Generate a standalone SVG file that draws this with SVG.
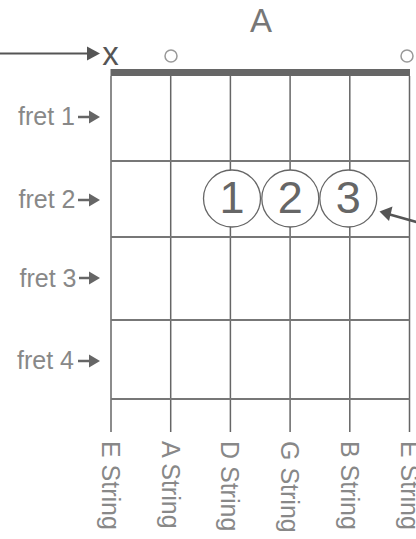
<svg xmlns="http://www.w3.org/2000/svg" width="416" height="539" viewBox="0 0 416 539">
<style>
.lbl{font-family:"Liberation Sans",Arial,sans-serif;font-size:25px;fill:#888}
.str{stroke:#666;stroke-width:1.5;fill:none}
.fret{stroke:#777;stroke-width:2;fill:none}
.open{stroke:#999;stroke-width:1.5;fill:none}
.fing{stroke:#666;stroke-width:1.3;fill:#fff}
.num{font-family:"Liberation Sans",Arial,sans-serif;font-size:45px;fill:#666;text-anchor:middle}
.arr{stroke:#666;stroke-width:2.5;fill:none}
.head{fill:#666}
</style>
<rect width="416" height="539" fill="#fff"/>
<g id="title"><text x="261" y="32" font-family="Liberation Sans, Arial, sans-serif" font-size="33" fill="#777" text-anchor="middle">A</text></g>
<g id="fretboard">
<rect x="110.5" y="69" width="299.5" height="7" fill="#666"/>
<line class="str" x1="111" y1="76" x2="111" y2="432"/>
<line class="str" x1="170.7" y1="76" x2="170.7" y2="432"/>
<line class="str" x1="230.4" y1="76" x2="230.4" y2="432"/>
<line class="str" x1="290.1" y1="76" x2="290.1" y2="432"/>
<line class="str" x1="349.8" y1="76" x2="349.8" y2="432"/>
<line class="str" x1="409.5" y1="76" x2="409.5" y2="432"/>
<line class="fret" x1="111" y1="161" x2="409.5" y2="161"/>
<line class="fret" x1="111" y1="237" x2="409.5" y2="237"/>
<line class="fret" x1="111" y1="320" x2="409.5" y2="320"/>
<line class="fret" x1="111" y1="399" x2="409.5" y2="399"/>
</g>
<g id="mute"><text x="110.5" y="64.5" font-family="Liberation Sans, Arial, sans-serif" font-size="33" fill="#555" text-anchor="middle">x</text></g>
<g id="open-a"><circle class="open" cx="171" cy="56" r="6"/></g>
<g id="open-e"><circle class="open" cx="407" cy="56" r="6"/></g>
<g id="finger1"><circle class="fing" cx="232" cy="198.5" r="28.5"/><text class="num" x="232" y="213">1</text></g>
<g id="finger2"><circle class="fing" cx="290.3" cy="198.5" r="28.5"/><text class="num" x="290.3" y="213">2</text></g>
<g id="finger3"><circle class="fing" cx="348.3" cy="198.5" r="28.5"/><text class="num" x="348.3" y="213">3</text></g>
<g id="fret1"><text class="lbl" x="75" y="125" text-anchor="end">fret 1</text></g>
<g id="fret2"><text class="lbl" x="75.5" y="208" text-anchor="end">fret 2</text></g>
<g id="fret3"><text class="lbl" x="76.5" y="286.5" text-anchor="end">fret 3</text></g>
<g id="fret4"><text class="lbl" x="74" y="369" text-anchor="end">fret 4</text></g>
<g id="s1"><text class="lbl" transform="translate(111 441) rotate(90)" x="0" y="9">E String</text></g>
<g id="s2"><text class="lbl" transform="translate(170.7 441) rotate(90)" x="0" y="9">A String</text></g>
<g id="s3"><text class="lbl" transform="translate(230.4 441) rotate(90)" x="0" y="9">D String</text></g>
<g id="s4"><text class="lbl" transform="translate(290.1 441) rotate(90)" x="0" y="9">G String</text></g>
<g id="s5"><text class="lbl" transform="translate(349.8 441) rotate(90)" x="0" y="9">B String</text></g>
<g id="s6"><text class="lbl" transform="translate(409.5 441) rotate(90)" x="0" y="9">E String</text></g>
<g id="connectors">
<line x1="0" y1="53.5" x2="90" y2="53.5" stroke="#555" stroke-width="2"/>
<polygon points="87,46.5 100,53.5 87,60.5" fill="#555"/>
<line class="arr" x1="78" y1="117" x2="91" y2="117"/>
<polygon class="head" points="89,110.5 100,117 89,123.5"/>
<line class="arr" x1="78" y1="200" x2="91" y2="200"/>
<polygon class="head" points="89,193.5 100,200 89,206.5"/>
<line class="arr" x1="79" y1="278" x2="91" y2="278"/>
<polygon class="head" points="89,271.5 100,278 89,284.5"/>
<line class="arr" x1="78" y1="361" x2="91" y2="361"/>
<polygon class="head" points="89,354.5 100,361 89,367.5"/>
<line x1="420" y1="223" x2="388" y2="214" stroke="#555" stroke-width="2.5"/>
<polygon points="379.5,211.5 392.5,206.5 389,221" fill="#555"/>
</g>
</svg>
